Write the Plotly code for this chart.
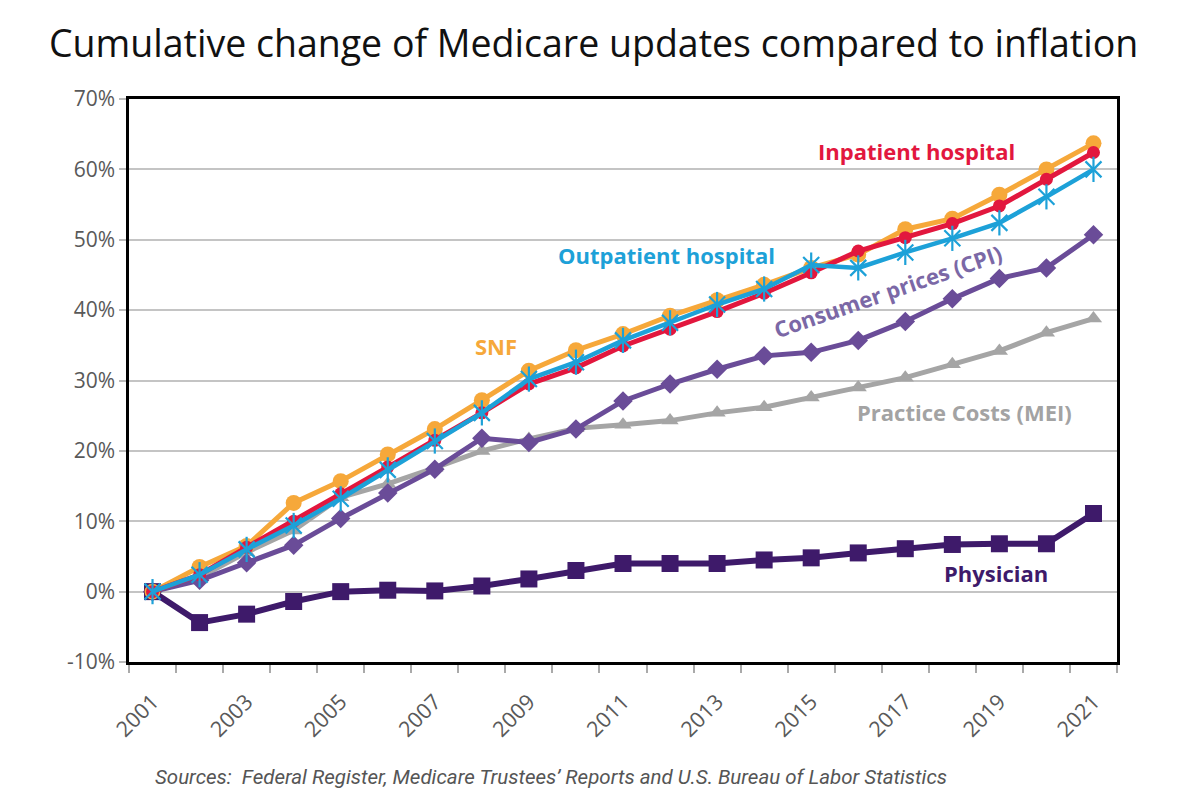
import plotly.graph_objects as go

years = list(range(2001, 2022))

snf = [0, 3.5, 6.5, 12.6, 15.7, 19.5, 23.1, 27.2, 31.4, 34.3, 36.6, 39.2, 41.4, 43.6, 46.0, 47.9, 51.5, 53.0, 56.4, 60.0, 63.7]
inpatient = [0, 2.4, 6.3, 10.0, 13.9, 17.7, 21.5, 25.4, 29.5, 31.8, 34.9, 37.3, 39.8, 42.4, 45.3, 48.4, 50.3, 52.3, 54.8, 58.6, 62.4]
outpatient = [0, 2.4, 6.0, 9.4, 13.2, 17.3, 21.4, 25.4, 30.2, 32.6, 35.7, 38.2, 40.8, 43.0, 46.4, 46.0, 48.2, 50.2, 52.4, 56.1, 60.0]
cpi = [0, 1.6, 4.1, 6.6, 10.4, 14.0, 17.4, 21.8, 21.2, 23.1, 27.1, 29.5, 31.6, 33.5, 34.0, 35.7, 38.4, 41.6, 44.5, 46.0, 50.7]
mei = [0, 2.0, 5.6, 8.7, 13.4, 15.3, 17.6, 20.0, 21.7, 23.2, 23.7, 24.3, 25.4, 26.2, 27.6, 29.0, 30.4, 32.3, 34.2, 36.8, 38.8]
physician = [0, -4.4, -3.2, -1.4, 0.0, 0.2, 0.1, 0.8, 1.8, 3.0, 4.0, 4.0, 4.0, 4.5, 4.8, 5.5, 6.1, 6.7, 6.8, 6.8, 11.1]

tick_years = list(range(2001, 2022, 2))
tick_labels = [str(y) for y in tick_years]
y_ticks = list(range(-10, 71, 10))
y_labels = [f"{v}%" for v in y_ticks]

C_SNF = "#F6A83A"
C_IN = "#E2173E"
C_OUT = "#1DA1D8"
C_CPI = "#6A4C98"
C_MEI = "#A5A5A5"
C_PHY = "#3E1A6A"

fig = go.Figure()

def add(name, vals, color, symbol, size, lw=5, mline=None, mode="lines+markers"):
    marker = dict(symbol=symbol, size=size, color=color)
    if mline:
        marker["line"] = mline
    fig.add_trace(go.Scatter(x=years, y=vals, mode=mode, name=name,
                             line=dict(color=color, width=lw), marker=marker,
                             showlegend=False))

add("Practice Costs (MEI)", mei, C_MEI, "triangle-up", 15)
add("Consumer prices (CPI)", cpi, C_CPI, "diamond", 15)
add("Physician", physician, C_PHY, "square", 17, lw=6)
add("SNF", snf, C_SNF, "circle", 16)
add("Inpatient hospital", inpatient, C_IN, "circle", 13)
add("Outpatient hospital", outpatient, C_OUT, "x-thin-open", 16, lw=4.5,
    mline=dict(color=C_OUT, width=2.2))
add("Outpatient hospital", outpatient, C_OUT, "line-ns-open", 18,
    mline=dict(color=C_OUT, width=2.2), mode="markers")

ann_font = "Open Sans"
def label(text, x, y, color, angle=0, size=22):
    fig.add_annotation(x=x, y=y, xref="x", yref="y", text=f"<b>{text}</b>",
                       showarrow=False, textangle=angle,
                       font=dict(family=ann_font, size=size, color=color))

label("Inpatient hospital", 2017.24, 62.6, C_IN)
label("Outpatient hospital", 2011.92, 47.8, C_OUT)
label("SNF", 2008.3, 34.9, C_SNF)
label("Consumer prices (CPI)", 2016.62, 42.7, "#7B68A6", angle=-19)
label("Practice Costs (MEI)", 2018.26, 25.5, "#A3A3A3")
label("Physician", 2018.93, 2.7, C_PHY)

fig.add_annotation(x=0.4275, y=-0.204, xref="paper", yref="paper",
                   xanchor="center", yanchor="middle",
                   text="<i>Sources:  Federal Register, Medicare Trustees\u2019 Reports and U.S. Bureau of Labor Statistics</i>",
                   showarrow=False, font=dict(family="Roboto", size=20.5, color="#555555"))

fig.update_layout(
    width=1200, height=800,
    margin=dict(l=121, r=91, t=91, b=146),
    paper_bgcolor="white", plot_bgcolor="white",
    title=dict(text="Cumulative change of Medicare updates compared to inflation",
               x=0.488, xanchor="center", y=0.955, yanchor="middle",
               font=dict(family="Open Sans", size=37.5, color="#111111")),
    font=dict(family="Open Sans", color="#595959"),
)

fig.update_xaxes(
    range=[2000.5, 2021.5], tickmode="array", tickvals=tick_years, ticktext=tick_labels,
    tickangle=-45, ticks="", showgrid=False, zeroline=False, ticklabelstandoff=16,
    tickfont=dict(family="Open Sans", size=21.5, color="#595959"),
    showline=True, linecolor="black", linewidth=2.5, mirror=True,
    minor=dict(tickmode="linear", tick0=2000.5, dtick=1, ticks="outside", ticklen=8,
               tickcolor="#AAAAAA", tickwidth=1.5, showgrid=False),
)
fig.update_yaxes(
    range=[-10, 70], tickmode="array", tickvals=y_ticks, ticktext=y_labels,
    ticks="outside", ticklen=7, tickcolor="#BBBBBB", tickwidth=1.5,
    showgrid=True, gridcolor="#C4C4C4", gridwidth=1.5, zeroline=False,
    tickfont=dict(family="Open Sans", size=21, color="#595959"),
    showline=True, linecolor="black", linewidth=2.5, mirror=True,
)

fig.write_html("out.html")
